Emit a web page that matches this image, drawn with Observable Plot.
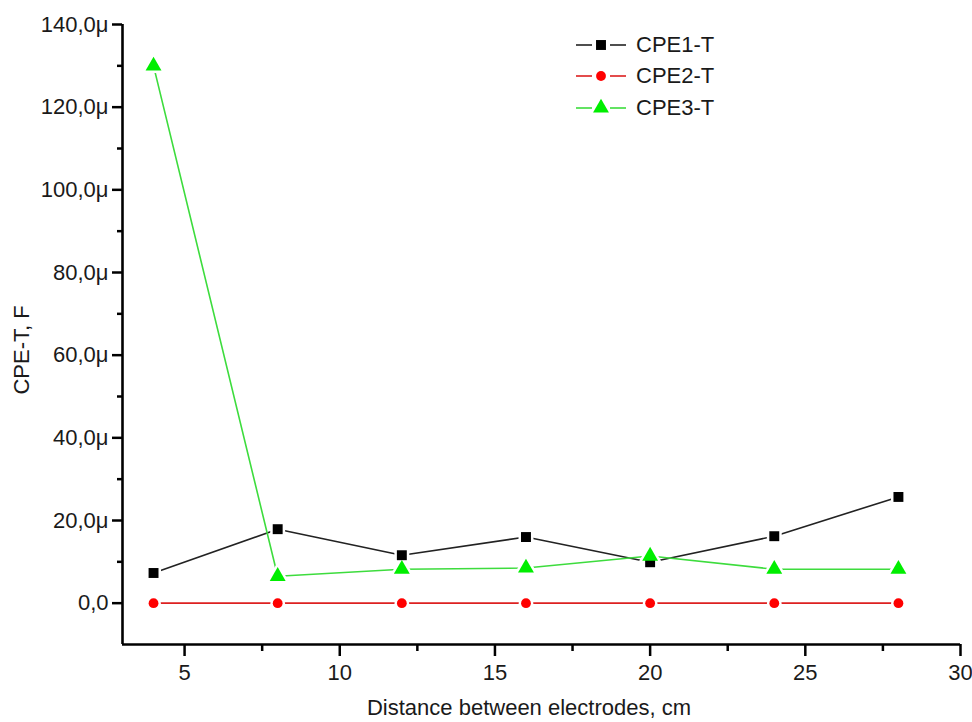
<!DOCTYPE html>
<html>
<head>
<meta charset="utf-8">
<script src="https://cdn.jsdelivr.net/npm/d3@7"></script>
<script src="https://cdn.jsdelivr.net/npm/@observablehq/plot@0.6"></script>
<style>
  html, body { margin: 0; padding: 0; background: #fff; }
  #wrap { position: relative; width: 972px; height: 722px; font-family: "Liberation Sans", Arial, sans-serif; }
  #legend { position: absolute; left: 574px; top: 29px; font-size: 22px; color: #1a1a1a; }
  #legend .row { display: flex; align-items: center; height: 31.5px; }
  #legend svg { margin-right: 8px; }
</style>
</head>
<body>
<div id="wrap"><div id="legend"></div></div>
<script>
// Data (values in µF)
const distances = [4, 8, 12, 16, 20, 24, 28];
const cpe1 = [7.3, 17.9, 11.6, 16.0, 9.9, 16.2, 25.7];
const cpe2 = [0, 0, 0, 0, 0, 0, 0];
const cpe3 = [130.0, 6.5, 8.2, 8.5, 11.4, 8.2, 8.2];
const seriesNames = ["CPE1-T", "CPE2-T", "CPE3-T"];
const xTicks = [5, 10, 15, 20, 25, 30];
const xMinorTicks = [7.5, 12.5, 17.5, 22.5, 27.5];
const yTicks = [0, 20, 40, 60, 80, 100, 120, 140];
const yMinorTicks = [10, 30, 50, 70, 90, 110, 130];
const xLabel = "Distance between electrodes, cm";
const yLabel = "CPE-T, F";

const styles = {
  "CPE1-T": {line: "#222222", mark: "#000000", symbol: "square", r: 5.6},
  "CPE2-T": {line: "#dd2020", mark: "#ff0000", symbol: "circle", r: 4.9},
  "CPE3-T": {line: "#3ddc3d", mark: "#00ee00", symbol: "triangle", r: 5.9}
};

const allSeries = [cpe1, cpe2, cpe3];
const rows = [];
seriesNames.forEach((name, i) => {
  distances.forEach((d, j) => rows.push({series: name, x: d, y: allSeries[i][j]}));
});

const fmtY = d => d === 0 ? "0,0" : d.toFixed(1).replace(".", ",") + "μ";

const marks = [];
seriesNames.forEach(name => {
  marks.push(Plot.line(rows.filter(r => r.series === name), {x: "x", y: "y", stroke: styles[name].line, strokeWidth: 1.6}));
});
seriesNames.forEach(name => {
  const s = styles[name];
  const data = rows.filter(r => r.series === name);
  marks.push(Plot.dot(data, {x: "x", y: "y", symbol: s.symbol, r: s.r, fill: "white", stroke: "white", strokeWidth: 5}));
});
seriesNames.forEach(name => {
  const s = styles[name];
  const data = rows.filter(r => r.series === name);
  marks.push(Plot.dot(data, {x: "x", y: "y", symbol: s.symbol, r: s.r, fill: s.mark, stroke: "none"}));
});

const chart = Plot.plot({
  width: 972,
  height: 722,
  marginLeft: 122,
  marginRight: 12,
  marginTop: 24,
  marginBottom: 78,
  style: {fontFamily: "'Liberation Sans', Arial, sans-serif", fontSize: "22px", color: "#1a1a1a", background: "white"},
  x: {domain: [3, 30]},
  y: {domain: [-10, 140]},
  marks: [
    ...marks,
    Plot.axisX({ticks: xTicks, tickSize: 12, tickPadding: 8, tickFormat: d => String(d), label: null, strokeWidth: 2.5, fontSize: 22, stroke: "black"}),
    Plot.axisX({ticks: xMinorTicks, tickSize: 7, tickFormat: () => "", label: null, strokeWidth: 2.5, stroke: "black"}),
    Plot.axisY({ticks: yTicks, tickSize: 10, tickPadding: 4, tickFormat: fmtY, label: null, strokeWidth: 2.5, fontSize: 22, stroke: "black"}),
    Plot.axisY({ticks: yMinorTicks, tickSize: 5, tickFormat: () => "", label: null, strokeWidth: 2.5, stroke: "black"}),
    Plot.ruleX([3], {stroke: "black", strokeWidth: 2.6}),
    Plot.ruleY([-10], {stroke: "black", strokeWidth: 2.6})
  ]
});

const svg = d3.select(chart);
svg.append("text")
  .attr("x", 529).attr("y", 715)
  .attr("text-anchor", "middle")
  .attr("font-size", 22)
  .attr("fill", "#1a1a1a")
  .text(xLabel);
svg.append("text")
  .attr("transform", "translate(29,350) rotate(-90)")
  .attr("text-anchor", "middle")
  .attr("font-size", 22)
  .attr("fill", "#1a1a1a")
  .text(yLabel);

const wrap = document.getElementById("wrap");
wrap.insertBefore(chart, wrap.firstChild);

// Legend
const legend = d3.select("#legend");
seriesNames.forEach(name => {
  const s = styles[name];
  const row = legend.append("div").attr("class", "row");
  const sv = row.append("svg").attr("width", 54).attr("height", 20);
  sv.append("line").attr("x1", 2).attr("x2", 18).attr("y1", 10).attr("y2", 10).attr("stroke", s.line).attr("stroke-width", 1.6);
  sv.append("line").attr("x1", 36).attr("x2", 52).attr("y1", 10).attr("y2", 10).attr("stroke", s.line).attr("stroke-width", 1.6);
  const sym = {square: d3.symbolSquare, circle: d3.symbolCircle, triangle: d3.symbolTriangle}[s.symbol];
  sv.append("path").attr("transform", "translate(27,10)")
    .attr("d", d3.symbol(sym, Math.PI * s.r * s.r)())
    .attr("fill", s.mark);
  row.append("span").text(name);
});
</script>
</body>
</html>
